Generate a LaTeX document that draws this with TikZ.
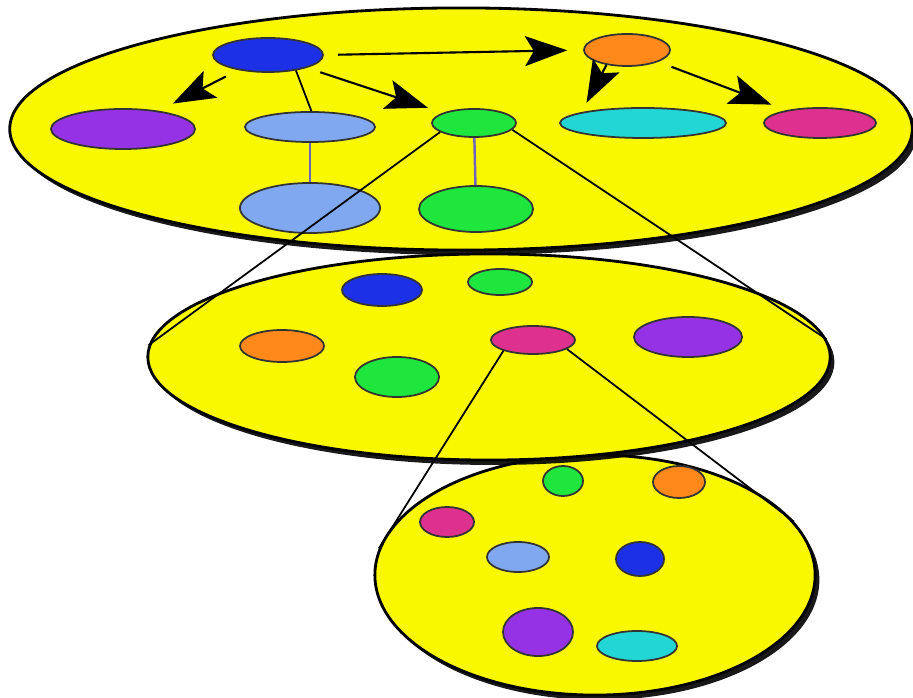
\documentclass[tikz,border=0pt]{standalone}
\usetikzlibrary{shapes.geometric,arrows.meta,shadows}

\definecolor{plateyellow}{RGB}{250,248,0}
\definecolor{nblue}{RGB}{28,48,230}
\definecolor{norange}{RGB}{255,136,26}
\definecolor{npurple}{RGB}{150,50,230}
\definecolor{nlblue}{RGB}{128,168,240}
\definecolor{ngreen}{RGB}{30,230,60}
\definecolor{ncyan}{RGB}{34,214,214}
\definecolor{nmag}{RGB}{222,48,142}
\definecolor{tiecol}{RGB}{110,100,190}

\tikzset{
  plate/.style={ellipse, draw, fill=plateyellow, line width=0.8pt, inner sep=0pt,
    drop shadow={shadow xshift=1.2pt, shadow yshift=-1.4pt, fill=black, opacity=0.9}},
  bub/.style 2 args={ellipse, draw=black!80, line width=0.5pt, inner sep=0pt,
    minimum width=#1, minimum height=#2},
  link/.style={-{Stealth[length=12pt,width=8.5pt,inset=2.5pt]}, line width=0.6pt,
    shorten >=4.5pt, shorten <=4pt},
  tie/.style={line width=0.7pt, draw=tiecol},
  cone/.style={line width=0.5pt}
}

\begin{document}
\begin{tikzpicture}[x=0.01cm, y=-0.01cm]
\useasboundingbox (0,0) rectangle (913,698);

% Bottom plate
\node[plate, minimum width=4.4cm, minimum height=2.4cm] (botplate) at (595,575) {};
\node[bub={0.40cm}{0.30cm}, fill=ngreen] (bgreen) at (563,481) {};
\node[bub={0.52cm}{0.32cm}, fill=norange] (borange) at (679,482) {};
\node[bub={0.54cm}{0.30cm}, fill=nmag] (bmag) at (447,522) {};
\node[bub={0.62cm}{0.30cm}, fill=nlblue] (blblue) at (518,557) {};
\node[bub={0.48cm}{0.34cm}, fill=nblue] (bblue) at (640,559) {};
\node[bub={0.70cm}{0.48cm}, fill=npurple] (bpurple) at (538,632) {};
\node[bub={0.80cm}{0.30cm}, fill=ncyan] (bcyan) at (637,646) {};

% Middle plate
\node[plate, minimum width=6.82cm, minimum height=2.06cm] (midplate) at (489,357) {};
\node[bub={0.80cm}{0.32cm}, fill=nblue] (mblue) at (382,290) {};
\node[bub={0.64cm}{0.26cm}, fill=ngreen] (mgreen) at (500,282) {};
\node[bub={0.84cm}{0.32cm}, fill=norange] (morange) at (282,346) {};
\node[bub={0.84cm}{0.28cm}, fill=nmag] (mmag) at (533,340) {};
\node[bub={1.08cm}{0.40cm}, fill=npurple] (mpurple) at (688,337) {};
\node[bub={0.84cm}{0.40cm}, fill=ngreen] (mgreen2) at (397,377) {};

% Top plate
\node[plate, minimum width=9.02cm, minimum height=2.42cm] (topplate) at (461,129) {};
\node[bub={1.10cm}{0.34cm}, fill=nblue] (tblue) at (268,55) {};
\node[bub={0.86cm}{0.32cm}, fill=norange] (torange) at (627,50) {};
\node[bub={1.44cm}{0.40cm}, fill=npurple] (tpurple) at (123,129) {};
\node[bub={1.30cm}{0.30cm}, fill=nlblue] (tlblue) at (310,127) {};
\node[bub={0.84cm}{0.28cm}, fill=ngreen] (tgreen) at (474,123) {};
\node[bub={1.66cm}{0.30cm}, fill=ncyan] (tcyan) at (643,123) {};
\node[bub={1.12cm}{0.30cm}, fill=nmag] (tmag) at (820,123) {};
\node[bub={1.40cm}{0.50cm}, fill=nlblue] (tlblue2) at (310,208) {};
\node[bub={1.14cm}{0.46cm}, fill=ngreen] (tgreen2) at (476,209) {};

% Links in the top plate
\draw[link] (tblue) -- (tpurple);
\draw[link] (tblue.east) -- (torange.west);
\draw[link] (tblue) -- (tgreen);
\draw[cone] (tblue.-29) -- (tlblue.85);
\draw[tie] (tlblue) -- (tlblue2);
\draw[tie] (tgreen) -- (tgreen2);
\draw[link, shorten <=0pt, shorten >=3pt] (torange.216) -- (tcyan.170);
\draw[link] (torange) -- (tmag);

% Zoom cones
\draw[cone] (tgreen.195) -- (midplate.178);
\draw[cone] (tgreen.-10) -- (midplate.3);
\draw[cone] (mmag.200) -- (botplate.173);
\draw[cone] (mmag.-15) -- (botplate.15);

\end{tikzpicture}
\end{document}
